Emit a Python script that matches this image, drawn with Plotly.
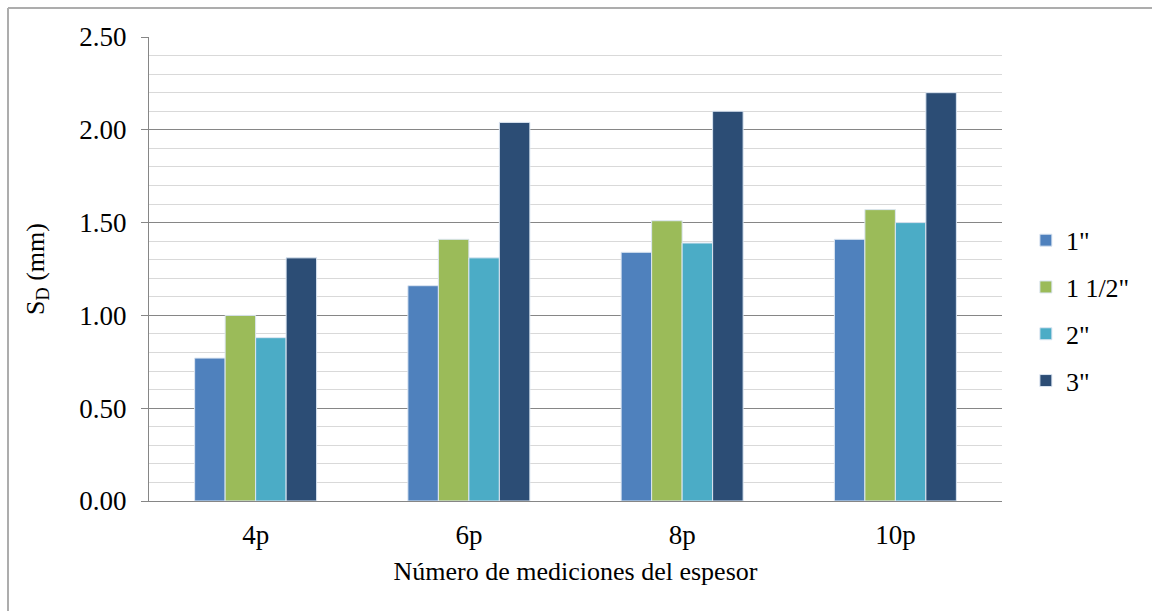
import plotly.graph_objects as go

# Categories and series values (S_D in mm)
categories = ["4p", "6p", "8p", "10p"]
series_names = ['1"', '1 1/2"', '2"', '3"']
values_1in = [0.77, 1.16, 1.34, 1.41]
values_1_5in = [1.00, 1.41, 1.51, 1.57]
values_2in = [0.88, 1.31, 1.39, 1.50]
values_3in = [1.31, 2.04, 2.10, 2.20]
colors = ["#4F81BD", "#9BBB59", "#4BACC6", "#2C4D75"]
y_ticks = [0.0, 0.5, 1.0, 1.5, 2.0, 2.5]

FONT = "Liberation Serif, Times New Roman, serif"

fig = go.Figure()
for i, (name, vals) in enumerate(zip(series_names, [values_1in, values_1_5in, values_2in, values_3in])):
    fig.add_trace(go.Bar(
        x=categories, y=vals, name=name,
        marker=dict(color=colors[i], line=dict(color="#DCE6F2", width=1)),
        legendgroup=f"g{i}",
    ))

L, R, T, B = 149, 150, 37, 110
W, H = 1152, 611
pw, ph = W - L - R, H - T - B

# Outer chart frame (top and left edges)
x0 = (8 - L) / pw
x1 = (W - L) / pw
y_top = (H - B - 8) / ph
y_bot = -(B) / ph
fig.add_shape(type="line", xref="paper", yref="paper", x0=x0, x1=x1, y0=y_top, y1=y_top,
              line=dict(color="#ADADAD", width=2), layer="below")
fig.add_shape(type="line", xref="paper", yref="paper", x0=x0, x1=x0, y0=y_top, y1=y_bot,
              line=dict(color="#ADADAD", width=2), layer="below")

fig.update_layout(
    width=W, height=H,
    margin=dict(l=L, r=R, t=T, b=B, autoexpand=False),
    paper_bgcolor="white", plot_bgcolor="white",
    barmode="group", bargap=0.428, bargroupgap=0,
    font=dict(family=FONT, size=26, color="black"),
    legend=dict(x=1.028, y=0.41, yanchor="middle", xanchor="left",
                font=dict(family=FONT, size=26), tracegroupgap=10,
                itemwidth=30),
    showlegend=True,
)
fig.update_xaxes(
    showline=True, linecolor="#868686", linewidth=1,
    ticks="", tickfont=dict(size=27), ticklabelstandoff=10,
    title=dict(text="Número de mediciones del espesor", font=dict(size=26), standoff=12),
)
fig.update_yaxes(
    range=[0, 2.5], tickvals=y_ticks, tickformat=".2f",
    showline=True, linecolor="#868686", linewidth=1,
    ticks="outside", ticklen=7, tickcolor="#868686",
    ticklabelstandoff=9,
    showgrid=True, gridcolor="#868686", gridwidth=1,
    minor=dict(dtick=0.1, showgrid=True, gridcolor="#D9D9D9", gridwidth=1),
    zeroline=False,
    tickfont=dict(size=27),
    title=dict(text="S<sub>D</sub> (mm)", font=dict(size=26), standoff=27),
)

fig.write_html("out.html")
